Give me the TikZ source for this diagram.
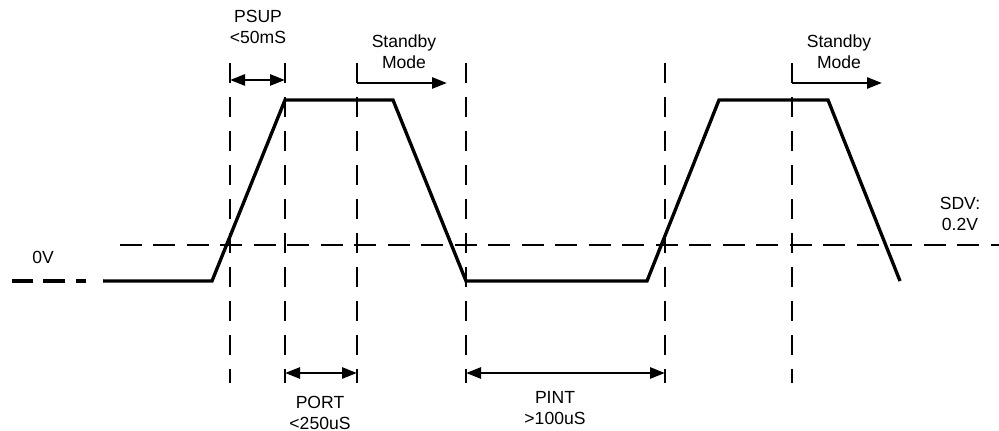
\documentclass[tikz,border=0pt]{standalone}
\usepackage{fontspec}
\setmainfont{Liberation Sans}
\usetikzlibrary{arrows.meta}

\begin{document}
\begin{tikzpicture}
  [x=0.02cm,y=-0.02cm,
   every node/.style={font=\fontsize{10}{11.7}\selectfont,align=center,inner sep=0pt},
   wave/.style={line width=1.9pt},
   guide/.style={line width=1.6pt,dash pattern=on 0.4cm off 0.28cm},
   level/.style={line width=1.6pt,dash pattern=on 0.44cm off 0.23cm},
   span/.style={line width=1.5pt,{Triangle[length=0.3cm,width=0.22cm]}-{Triangle[length=0.3cm,width=0.22cm]}},
   mode/.style={line width=1.5pt,-{Triangle[length=0.3cm,width=0.22cm]}}]
  \useasboundingbox (0,0) rectangle (999,431);
  % labels
  \node (psup)  at (258,27)  {PSUP\\<50mS};
  \node (sb1)   at (404,52)  {Standby\\Mode};
  \node (sb2)   at (839,52)  {Standby\\Mode};
  \node (zero)  at (43,257)  {0V};
  \node (sdv)   at (960,214) {SDV:\\0.2V};
  \node (port)  at (320,413) {PORT\\<250uS};
  \node (pint)  at (555,408) {PINT\\>100uS};
  % vertical guides
  \coordinate (g1t) at (230,63);  \coordinate (g1b) at (230,383);
  \coordinate (g2t) at (285,63);  \coordinate (g2b) at (285,383);
  \coordinate (g3t) at (357,63);  \coordinate (g3b) at (357,383);
  \coordinate (g4t) at (466,63);  \coordinate (g4b) at (466,383);
  \coordinate (g5t) at (665,63);  \coordinate (g5b) at (665,383);
  \coordinate (g6t) at (792,63);  \coordinate (g6b) at (792,383);
  \foreach \from/\to in {g1t/g1b,g2t/g2b,g3t/g3b,g4t/g4b,g5t/g5b,g6t/g6b}
    \draw[guide] (\from) -- (\to);
  % threshold level
  \coordinate (lvl1) at (120,245);
  \coordinate (lvl2) at (999,245);
  \draw[level] (lvl1) -- (lvl2);
  % waveform
  \coordinate (w0) at (12,281);
  \coordinate (w1) at (103,281);
  \coordinate (w2) at (212,281);
  \coordinate (w3) at (285,100);
  \coordinate (w4) at (393,100);
  \coordinate (w5) at (466,281);
  \coordinate (w6) at (647,281);
  \coordinate (w7) at (719,100);
  \coordinate (w8) at (828,100);
  \coordinate (w9) at (900,281);
  \draw[wave,dash pattern=on 0.43cm off 0.2cm on 0.43cm off 0.23cm on 0.2cm off 0.33cm] (w0) -- (w1);
  \draw[wave] (w1) -- (w2) -- (w3) -- (w4) -- (w5) -- (w6) -- (w7) -- (w8) -- (w9);
  % timing arrows
  \coordinate (psupL) at (230,80);  \coordinate (psupR) at (285,80);
  \coordinate (sb1L)  at (357,83);  \coordinate (sb1R)  at (447,83);
  \coordinate (sb2L)  at (792,83);  \coordinate (sb2R)  at (882,83);
  \coordinate (portL) at (285,373); \coordinate (portR) at (357,373);
  \coordinate (pintL) at (466,373); \coordinate (pintR) at (665,373);
  \foreach \from/\to in {psupL/psupR,portL/portR,pintL/pintR}
    \draw[span] (\from) -- (\to);
  \foreach \from/\to in {sb1L/sb1R,sb2L/sb2R}
    \draw[mode] (\from) -- (\to);
\end{tikzpicture}
\end{document}
